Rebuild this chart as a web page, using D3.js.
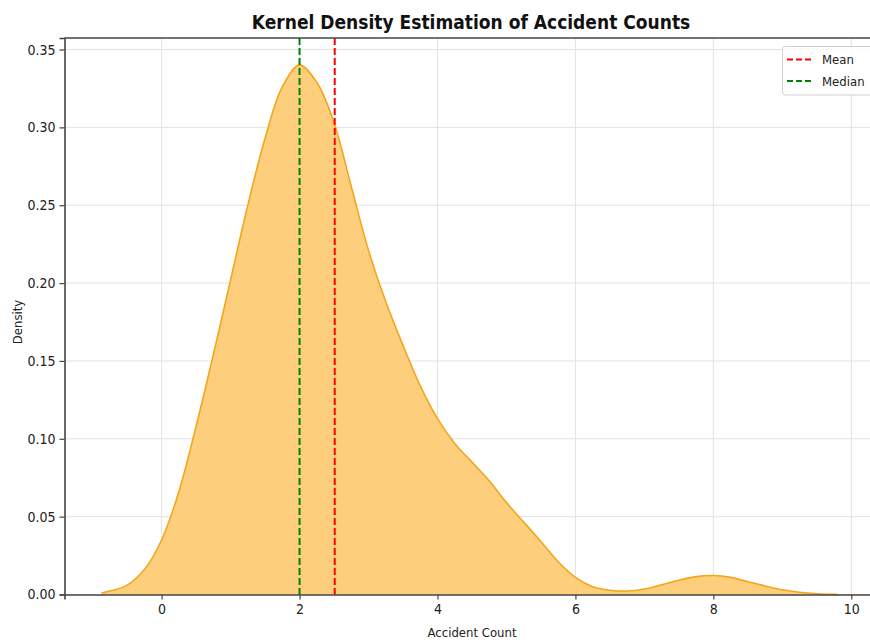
<!DOCTYPE html>
<html>
<head>
<meta charset="utf-8">
<script src="https://cdn.jsdelivr.net/npm/d3@7"></script>
<style>
  body { margin: 0; background: #fff; }
  text { font-family: "DejaVu Sans Condensed", "DejaVu Sans", sans-serif; }
</style>
</head>
<body>
<svg id="chart" width="870" height="643"></svg>
<script>
// KDE curve
var kdeX = [-0.87, -0.5, -0.25, 0, 0.25, 0.5, 0.75, 1.0, 1.25, 1.5, 1.75, 2.0, 2.25, 2.5, 2.75,
            3.0, 3.25, 3.5, 3.75, 4.0, 4.25, 4.5, 4.75, 5.0, 5.25, 5.5, 5.75, 6.0, 6.25, 6.5,
            6.75, 7.0, 7.25, 7.5, 7.75, 8.0, 8.25, 8.5, 8.75, 9.0, 9.25, 9.5, 9.8];
var kdeY = [0.001, 0.006, 0.016, 0.035, 0.066, 0.108, 0.154, 0.202, 0.25, 0.293, 0.326, 0.340, 0.329, 0.303, 0.262,
            0.221, 0.188, 0.16, 0.134, 0.113, 0.097, 0.085, 0.073, 0.059, 0.0465, 0.034, 0.021, 0.011, 0.005, 0.0027,
            0.0022, 0.0035, 0.0062, 0.0092, 0.0115, 0.0122, 0.011, 0.0082, 0.0055, 0.003, 0.0014, 0.0005, 0.0001];

var meanValue = 2.51;
var medianValue = 2.0;

var xTicks = [0, 2, 4, 6, 8, 10];
var yTicks = [0, 0.05, 0.10, 0.15, 0.20, 0.25, 0.30, 0.35];

var legendItems = [
    {label: "Mean", color: "#ff0000"},
    {label: "Median", color: "#008000"}
];

var plotLeft = 64.5, plotRight = 872, plotTop = 38, plotBottom = 594.5;

var svg = d3.select("#chart");

var x = d3.scaleLinear().domain([-1.408, 10.30]).range([plotLeft, plotRight]);
var y = d3.scaleLinear().domain([0, 0.3574]).range([plotBottom, plotTop]);

// grid
svg.append("g").selectAll("line")
    .data(xTicks).enter().append("line")
    .attr("x1", function (d) { return x(d); })
    .attr("x2", function (d) { return x(d); })
    .attr("y1", plotTop).attr("y2", plotBottom)
    .attr("stroke", "#e3e3e3").attr("stroke-width", 1);

svg.append("g").selectAll("line")
    .data(yTicks).enter().append("line")
    .attr("x1", plotLeft).attr("x2", plotRight)
    .attr("y1", function (d) { return y(d); })
    .attr("y2", function (d) { return y(d); })
    .attr("stroke", "#e3e3e3").attr("stroke-width", 1);

var pts = kdeX.map(function (d, i) { return [d, kdeY[i]]; });

var area = d3.area()
    .x(function (d) { return x(d[0]); })
    .y0(y(0))
    .y1(function (d) { return y(d[1]); })
    .curve(d3.curveCatmullRom.alpha(0.5));

var line = d3.line()
    .x(function (d) { return x(d[0]); })
    .y(function (d) { return y(d[1]); })
    .curve(d3.curveCatmullRom.alpha(0.5));

svg.append("path")
    .datum(pts)
    .attr("d", area)
    .attr("fill", "rgb(253,207,125)");

svg.append("path")
    .datum(pts)
    .attr("d", line)
    .attr("fill", "none")
    .attr("stroke", "#f5a51c")
    .attr("stroke-width", 1.6);

// mean / median lines
svg.append("line")
    .attr("x1", x(meanValue)).attr("x2", x(meanValue))
    .attr("y1", plotTop).attr("y2", plotBottom)
    .attr("stroke", "#ff0000").attr("stroke-width", 2)
    .attr("stroke-dasharray", "7,3");

svg.append("line")
    .attr("x1", x(medianValue)).attr("x2", x(medianValue))
    .attr("y1", plotTop).attr("y2", plotBottom)
    .attr("stroke", "#008000").attr("stroke-width", 2)
    .attr("stroke-dasharray", "7,3");

// axes
var xAxis = svg.append("g")
    .attr("transform", "translate(0," + plotBottom + ")")
    .call(d3.axisBottom(x).tickValues(xTicks).tickSize(5).tickPadding(5).tickFormat(d3.format("d")));
var yAxis = svg.append("g")
    .attr("transform", "translate(" + plotLeft + ",0)")
    .call(d3.axisLeft(y).tickValues(yTicks).tickSize(5).tickPadding(4).tickFormat(d3.format(".2f")));

[xAxis, yAxis].forEach(function (g) {
    g.select(".domain").attr("stroke", "#444").attr("stroke-width", 1.6);
    g.selectAll(".tick line").attr("stroke", "#444").attr("stroke-width", 1.2);
    g.selectAll(".tick text").attr("fill", "#222").style("font-size", "14px");
});

// top spine
svg.append("line")
    .attr("x1", plotLeft).attr("x2", plotRight)
    .attr("y1", plotTop).attr("y2", plotTop)
    .attr("stroke", "#444").attr("stroke-width", 1.6);

// title and labels
svg.append("text")
    .attr("x", 471).attr("y", 29)
    .attr("text-anchor", "middle")
    .style("font-size", "19px").style("font-weight", "bold")
    .attr("fill", "#111")
    .text("Kernel Density Estimation of Accident Counts");

svg.append("text")
    .attr("x", 472).attr("y", 637)
    .attr("text-anchor", "middle")
    .style("font-size", "13px").attr("fill", "#222")
    .text("Accident Count");

svg.append("text")
    .attr("transform", "translate(22,322) rotate(-90)")
    .attr("text-anchor", "middle")
    .style("font-size", "13px").attr("fill", "#222")
    .text("Density");

// legend
var lg = svg.append("g");
lg.append("rect")
    .attr("x", 782.5).attr("y", 46.5)
    .attr("width", 100).attr("height", 48.5)
    .attr("rx", 3)
    .attr("fill", "#fff").attr("fill-opacity", 0.85)
    .attr("stroke", "#d0d0d0");

var items = lg.selectAll(".item")
    .data(legendItems).enter().append("g")
    .attr("transform", function (d, i) { return "translate(0," + (59.5 + i * 21.5) + ")"; });

items.append("line")
    .attr("x1", 787).attr("x2", 813)
    .attr("stroke", function (d) { return d.color; })
    .attr("stroke-width", 2)
    .attr("stroke-dasharray", "6,3");

items.append("text")
    .attr("x", 822).attr("y", 4.5)
    .style("font-size", "13px").attr("fill", "#222")
    .text(function (d) { return d.label; });
</script>
</body>
</html>
